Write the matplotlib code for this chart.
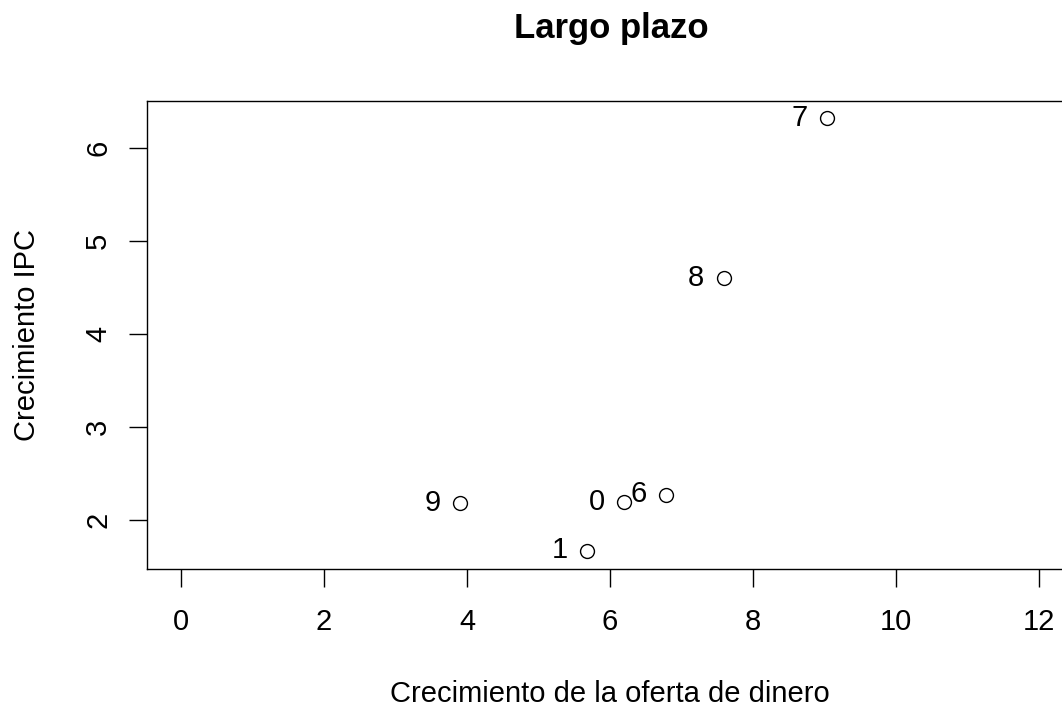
import matplotlib
matplotlib.use("Agg")
import matplotlib.pyplot as plt

# Data
etiquetas = ["0", "1", "6", "7", "8", "9"]
oferta_dinero = [6.20, 5.68, 6.78, 9.03, 7.59, 3.90]
ipc = [2.19, 1.67, 2.27, 6.32, 4.60, 2.18]
x_ticks = [0, 2, 4, 6, 8, 10, 12]
y_ticks = [2, 3, 4, 5, 6]

plt.rcParams["font.family"] = ["Liberation Sans", "DejaVu Sans"]

fig = plt.figure(figsize=(10.62, 7.06), dpi=100)
# the plot box runs slightly past the right edge, as in the original
ax = fig.add_axes([147 / 1062, 137 / 706, 919 / 1062, 468 / 706])

ax.plot(oferta_dinero, ipc, "o", markersize=10, markerfacecolor="white",
        markeredgecolor="black", markeredgewidth=1.0, clip_on=False)
for lab, x, y in zip(etiquetas, oferta_dinero, ipc):
    ax.annotate(lab, (x, y), xytext=(-14, 0.5), textcoords="offset points",
                ha="right", va="center", fontsize=21)

ax.set_xlim(-0.476, 12.376)
ax.set_ylim(1.474, 6.506)
ax.set_xticks(x_ticks)
ax.set_yticks(y_ticks)
ax.tick_params(axis="both", labelsize=21, length=13, width=1)
ax.tick_params(axis="x", pad=15)
ax.tick_params(axis="y", pad=12, labelrotation=90)
for lbl in ax.get_yticklabels():
    lbl.set_va("center")
for s in ax.spines.values():
    s.set_linewidth(1)

ax.set_xlabel("Crecimiento de la oferta de dinero", fontsize=21)
ax.xaxis.label.set_va("baseline")
ax.xaxis.set_label_coords((610 - 147) / 919, (569 - 702) / 468)
ax.set_ylabel("Crecimiento IPC", fontsize=21)
ax.yaxis.label.set_va("center")
ax.yaxis.set_label_coords((27 - 147) / 919, 0.5)

fig.text(611 / 1062, 1 - 38 / 706, "Largo plazo",
         fontsize=25, fontweight="bold", ha="center", va="baseline")

fig.savefig("out.png", dpi=100)
plt.close(fig)
